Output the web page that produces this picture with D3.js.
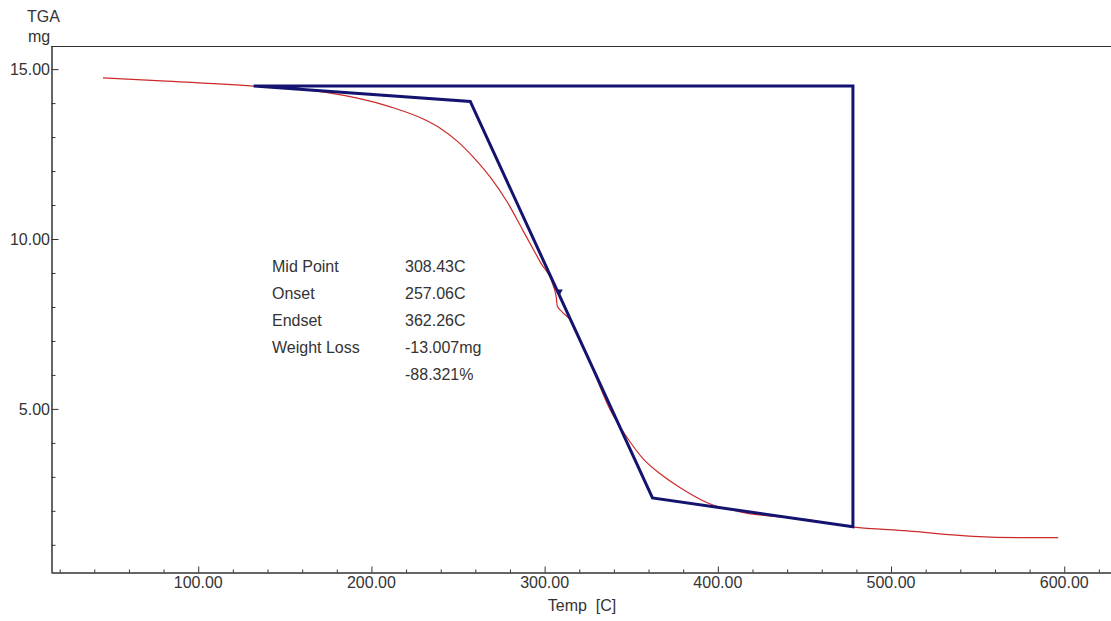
<!DOCTYPE html>
<html lang="en">
<head>
  <meta charset="UTF-8">
  <title>TGA</title>
  <script src="https://d3js.org/d3.v7.min.js"></script>
  <style>
    body { margin: 0; background: #fff; }
    text { font-family: "Liberation Sans", Arial, sans-serif; font-size: 16px; fill: #333; }
  </style>
</head>
<body>
  <svg id="svg" width="1111" height="621"></svg>
  <script>
    // red TGA curve: temperature (C) and weight (mg)
    var temps   = [45, 76, 132, 172, 211, 230, 239.7, 249.5, 258.8, 268.6, 278.4, 287.6, 297.5, 305, 306.7, 307.3, 310.2, 314.8, 326.3, 337.9, 347.7, 356.9, 366.7, 378.3, 393.9, 412.9, 451.6, 477.6, 509.4, 547.5, 576.3, 596.5]
    var weights = [14.74, 14.66, 14.5, 14.33, 13.89, 13.53, 13.26, 12.88, 12.41, 11.82, 11.09, 10.24, 9.32, 8.62, 8.29, 8.03, 7.85, 7.62, 6.35, 4.97, 4.15, 3.53, 3.09, 2.68, 2.24, 1.97, 1.74, 1.53, 1.41, 1.25, 1.21, 1.21]

    // blue analysis lines (tangents + step box)
    var boxTemps   = [132, 478, 478, 362.26, 257.06, 132]
    var boxWeights = [14.5, 14.5, 1.53, 2.38, 14.05, 14.5]
    var midPoint = [308.43, 8.45]

    var xMajor = [100, 200, 300, 400, 500, 600]
    var yMajor = [5, 10, 15]
    var labels = ['Mid Point', 'Onset', 'Endset', 'Weight Loss', '']
    var values = ['308.43C', '257.06C', '362.26C', '-13.007mg', '-88.321%']

    // plot area (window.top is reserved, so keep it in an object)
    var plot = { left: 51, right: 1111, top: 46, bottom: 572 }

    var x = d3.scaleLinear().domain([15, 627]).range([plot.left, plot.right])
    var y = d3.scaleLinear().domain([0.2, 15.68]).range([plot.bottom, plot.top])

    var svg = d3.select('#svg')

    // top frame line
    svg.append('line').attr('x1', plot.left).attr('x2', plot.right)
      .attr('y1', plot.top + 0.5).attr('y2', plot.top + 0.5)
      .attr('stroke', '#333').attr('stroke-width', 1)

    // minor ticks
    var xMinor = d3.range(20, 621, 20).filter(d => xMajor.indexOf(d) < 0)
    var yMinor = d3.range(1, 16, 1).filter(d => yMajor.indexOf(d) < 0)

    var xAxisMinor = d3.axisTop(x).tickValues(xMinor).tickSize(3).tickSizeOuter(0).tickFormat('')
    var xAxis = d3.axisTop(x).tickValues(xMajor).tickSize(6).tickSizeOuter(0).tickFormat('')
    var yAxisMinor = d3.axisRight(y).tickValues(yMinor).tickSize(4).tickSizeOuter(0).tickFormat('')
    var yAxis = d3.axisRight(y).tickValues(yMajor).tickSize(7).tickSizeOuter(0).tickFormat('')

    ;[xAxisMinor, xAxis].forEach(a => {
      svg.append('g').attr('transform', 'translate(0,' + (plot.bottom + 0.5) + ')').call(a)
    })
    ;[yAxisMinor, yAxis].forEach(a => {
      svg.append('g').attr('transform', 'translate(' + (plot.left + 0.5) + ',0)').call(a)
    })
    svg.selectAll('.domain').attr('stroke', '#333')
    svg.selectAll('.tick line').attr('stroke', '#333')

    // tick labels
    svg.selectAll('.xlab').data(xMajor).enter().append('text')
      .attr('x', d => x(d)).attr('y', 588)
      .attr('text-anchor', 'middle')
      .text(d => d.toFixed(2))
    svg.selectAll('.ylab').data(yMajor).enter().append('text')
      .attr('x', plot.left - 1).attr('y', d => y(d) + 6)
      .attr('text-anchor', 'end')
      .text(d => d.toFixed(2))

    // axis titles
    svg.append('text').attr('x', 27).attr('y', 22).text('TGA')
    svg.append('text').attr('x', 28).attr('y', 42).text('mg')
    svg.append('text').attr('x', 582).attr('y', 611).attr('text-anchor', 'middle')
      .style('white-space', 'pre').text('Temp  [C]')

    // red curve
    var pts = temps.map((t, i) => [t, weights[i]])
    var line = d3.line().x(d => x(d[0])).y(d => y(d[1])).curve(d3.curveMonotoneX)
    svg.append('path').datum(pts)
      .attr('d', line)
      .attr('fill', 'none')
      .attr('stroke', '#cc2a2a')
      .attr('stroke-width', 1.2)

    // blue analysis lines
    var box = boxTemps.map((t, i) => [t, boxWeights[i]])
    svg.append('path').datum(box)
      .attr('d', d3.line().x(d => x(d[0])).y(d => y(d[1])))
      .attr('fill', 'none')
      .attr('stroke', '#141470')
      .attr('stroke-width', 3)
      .attr('stroke-linejoin', 'miter')

    // mid point marker
    svg.append('path')
      .attr('d', d3.symbol().type(d3.symbolTriangle).size(22))
      .attr('transform', 'translate(' + x(midPoint[0]) + ',' + y(midPoint[1]) + ') rotate(180)')
      .attr('fill', '#141470')

    // results text
    var rowY = [272, 299, 326, 353, 380]
    svg.selectAll('.lab').data(labels).enter().append('text')
      .attr('x', 272).attr('y', (d, i) => rowY[i]).text(d => d)
    svg.selectAll('.val').data(values).enter().append('text')
      .attr('x', 405).attr('y', (d, i) => rowY[i]).text(d => d)
  </script>
</body>
</html>
